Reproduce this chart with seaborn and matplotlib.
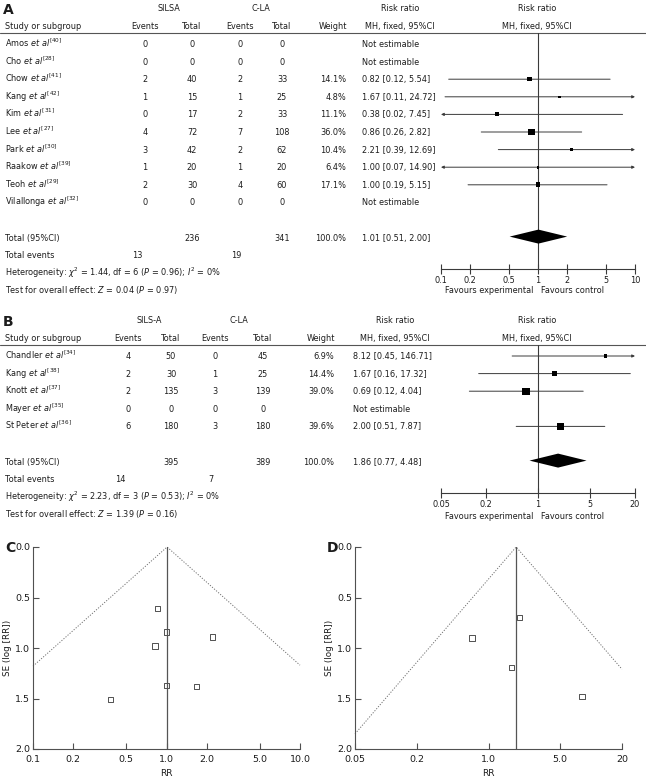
"""
Forest plots (A, B) and funnel plots (C, D): SILS vs conventional laparoscopic
appendectomy, risk ratio MH fixed effect.
"""
import numpy as np
import matplotlib
matplotlib.use("Agg")
import matplotlib.pyplot as plt
from matplotlib.ticker import NullLocator
import seaborn as sns

W, H = 646, 782

# ---------------- panel A data ----------------
a_study = ["Amos", "Cho", "Chow", "Kang", "Kim", "Lee", "Park", "Raakow", "Teoh", "Vilallonga"]
a_ref = [40, 28, 41, 42, 31, 27, 30, 39, 29, 32]
a_ev_exp = [0, 0, 2, 1, 0, 4, 3, 1, 2, 0]
a_n_exp = [0, 0, 40, 15, 17, 72, 42, 20, 30, 0]
a_ev_ctl = [0, 0, 2, 1, 2, 7, 2, 1, 4, 0]
a_n_ctl = [0, 0, 33, 25, 33, 108, 62, 20, 60, 0]
a_weight = [np.nan, np.nan, 14.1, 4.8, 11.1, 36.0, 10.4, 6.4, 17.1, np.nan]
a_rr = [np.nan, np.nan, 0.82, 1.67, 0.38, 0.86, 2.21, 1.00, 1.00, np.nan]
a_lo = [np.nan, np.nan, 0.12, 0.11, 0.02, 0.26, 0.39, 0.07, 0.19, np.nan]
a_hi = [np.nan, np.nan, 5.54, 24.72, 7.45, 2.82, 12.69, 14.90, 5.15, np.nan]
a_tot_n = [236, 341]
a_tot_ev = [13, 19]
a_tot_rr = [1.01, 0.51, 2.00]
a_het = ["1.44", "6", "0.96", "0"]
a_z = ["0.04", "0.97"]
a_ticks = [0.1, 0.2, 0.5, 1, 2, 5, 10]
a_ticklabels = ["0.1", "0.2", "0.5", "1", "2", "5", "10"]

# ---------------- panel B data ----------------
b_study = ["Chandler", "Kang", "Knott", "Mayer", "St Peter"]
b_ref = [34, 38, 37, 35, 36]
b_ev_exp = [4, 2, 2, 0, 6]
b_n_exp = [50, 30, 135, 0, 180]
b_ev_ctl = [0, 1, 3, 0, 3]
b_n_ctl = [45, 25, 139, 0, 180]
b_weight = [6.9, 14.4, 39.0, np.nan, 39.6]
b_rr = [8.12, 1.67, 0.69, np.nan, 2.00]
b_lo = [0.45, 0.16, 0.12, np.nan, 0.51]
b_hi = [146.71, 17.32, 4.04, np.nan, 7.87]
b_tot_n = [395, 389]
b_tot_ev = [14, 7]
b_tot_rr = [1.86, 0.77, 4.48]
b_het = ["2.23", "3", "0.53", "0"]
b_z = ["1.39", "0.16"]
b_ticks = [0.05, 0.2, 1, 5, 20]
b_ticklabels = ["0.05", "0.2", "1", "5", "20"]

# ---------------- funnel data (C, D) ----------------
c_rr = [0.82, 1.67, 0.38, 0.86, 2.21, 1.00, 1.00]
c_se = [0.98, 1.38, 1.51, 0.61, 0.89, 1.37, 0.84]
c_funnel_rr = [0.1, 1.01, 10.0]
c_funnel_se = [1.18, 0.0, 1.17]
c_ticks = [0.1, 0.2, 0.5, 1.0, 2.0, 5.0, 10.0]
c_ticklabels = ["0.1", "0.2", "0.5", "1.0", "2.0", "5.0", "10.0"]

d_rr = [8.12, 1.67, 0.69, 2.00]
d_se = [1.48, 1.19, 0.90, 0.70]
d_funnel_rr = [0.05, 1.86, 20.0]
d_funnel_se = [1.85, 0.0, 1.21]
d_ticks = [0.05, 0.2, 1.0, 5.0, 20.0]
d_ticklabels = ["0.05", "0.2", "1.0", "5.0", "20"]

se_ticks = [0.0, 0.5, 1.0, 1.5, 2.0]

TXT = "#1c1c1c"
LINE = "#3a3a3a"
FS = 5.9
ROW = 17.6

sns.set_theme(style="white")
plt.rcParams["font.family"] = ["DejaVu Sans"]
plt.rcParams["mathtext.fontset"] = "dejavusans"

fig = plt.figure(figsize=(W / 100, H / 100), dpi=100)
canvas = fig.add_axes([0, 0, 1, 1])
canvas.set_xlim(0, W)
canvas.set_ylim(H, 0)
canvas.axis("off")


def px_axes(x0, y0, x1, y1):
    ax = fig.add_axes([x0 / W, 1 - y1 / H, (x1 - x0) / W, (y1 - y0) / H])
    ax.patch.set_visible(False)
    return ax


def put(x, y, s, ha="left", **kw):
    # y is the visual middle of the line; baseline sits a bit lower
    canvas.text(x, y + 3.0, s, ha=ha, va="baseline", fontsize=kw.pop("fontsize", FS),
                color=TXT, **kw)


def draw_table(y0, cols, grp, study, ref, ev_e, n_e, ev_c, n_c, wt, rr, lo, hi,
               tot_n, tot_ev, tot_rr, het, z):
    c_ev1, c_n1, c_ev2, c_n2, c_wt, c_rr, c_rrh = cols
    put((c_ev1 + c_n1) / 2, y0, grp[0], ha="center")
    put((c_ev2 + c_n2) / 2, y0, grp[1], ha="center")
    put(c_rrh, y0, "Risk ratio", ha="center")
    put(537, y0, "Risk ratio", ha="center")
    yh = y0 + 18
    put(5, yh, "Study or subgroup")
    for cx, lab in [(c_ev1, "Events"), (c_n1, "Total"), (c_ev2, "Events"), (c_n2, "Total")]:
        put(cx, yh, lab, ha="center")
    put(c_wt + 1, yh, "Weight", ha="right")
    put(c_rrh, yh, "MH, fixed, 95%CI", ha="center")
    put(537, yh, "MH, fixed, 95%CI", ha="center")
    canvas.plot([0, W], [yh + 7, yh + 7], color="#555555", lw=0.8)

    rows = [yh + 18 + i * ROW for i in range(len(study))]
    for i, y in enumerate(rows):
        put(5, y, study[i] + r" $\mathit{et\ al}^{[%d]}$" % ref[i])
        put(c_ev1, y, str(ev_e[i]), ha="center")
        put(c_n1, y, str(n_e[i]), ha="center")
        put(c_ev2, y, str(ev_c[i]), ha="center")
        put(c_n2, y, str(n_c[i]), ha="center")
        if np.isnan(rr[i]):
            put(c_rr, y, "Not estimable")
        else:
            put(c_wt, y, f"{wt[i]:.1f}%", ha="right")
            put(c_rr, y, f"{rr[i]:.2f} [{lo[i]:.2f}, {hi[i]:.2f}]")

    yt = rows[-1] + 2 * ROW
    put(5, yt, "Total (95%CI)")
    put(c_n1, yt, str(tot_n[0]), ha="center")
    put(c_n2, yt, str(tot_n[1]), ha="center")
    put(c_wt, yt, "100.0%", ha="right")
    put(c_rr, yt, f"{tot_rr[0]:.2f} [{tot_rr[1]:.2f}, {tot_rr[2]:.2f}]")
    put(5, yt + ROW, "Total events")
    put(c_ev1 - 8, yt + ROW, str(tot_ev[0]), ha="center")
    put(c_ev2 - 4, yt + ROW, str(tot_ev[1]), ha="center")
    put(5, yt + 2 * ROW,
        r"Heterogeneity: $\chi^2$ = %s, df = %s ($P$ = %s); $I^2$ = %s%%" % tuple(het))
    put(5, yt + 3 * ROW, r"Test for overall effect: $Z$ = %s ($P$ = %s)" % tuple(z))
    return rows, yt


def draw_forest(top, bottom, rows, yt, rr, lo, hi, wt, tot_rr, ticks, ticklabels, fav_y):
    ax = px_axes(441, top, 635, bottom)
    xmin, xmax = ticks[0], ticks[-1]
    ax.set_xscale("log")
    ax.set_xlim(xmin, xmax)
    ax.set_ylim(bottom, top)
    ax.axvline(1, color=LINE, lw=0.8, zorder=1)

    ok = [i for i in range(len(rr)) if not np.isnan(rr[i])]
    for i in ok:
        left, right = max(lo[i], xmin), min(hi[i], xmax)
        style = {(False, False): "-", (False, True): "-|>",
                 (True, False): "<|-", (True, True): "<|-|>"}[(lo[i] < xmin, hi[i] > xmax)]
        ax.annotate("", xy=(right, rows[i]), xytext=(left, rows[i]),
                    arrowprops=dict(arrowstyle=style, color=LINE, lw=0.7,
                                    mutation_scale=4, shrinkA=0, shrinkB=0),
                    annotation_clip=False)
    sns.scatterplot(x=[rr[i] for i in ok], y=[rows[i] for i in ok],
                    size=[wt[i] for i in ok], sizes=(0, 28), size_norm=(0, 40),
                    marker="s", color="black", linewidth=0, legend=False,
                    ax=ax, zorder=3, clip_on=False)
    est, dlo, dhi = tot_rr
    ax.fill([dlo, est, dhi, est], [yt - 1, yt - 8, yt - 1, yt + 6], color="black", lw=0, zorder=3)

    for side in ["top", "left", "right"]:
        ax.spines[side].set_visible(False)
    ax.spines["bottom"].set_color(LINE)
    ax.spines["bottom"].set_linewidth(0.8)
    ax.set_yticks([])
    ax.set_xticks(ticks)
    ax.set_xticklabels(ticklabels)
    ax.xaxis.set_minor_locator(NullLocator())
    ax.tick_params(axis="x", direction="inout", length=7, width=0.8, colors=LINE,
                   labelcolor=TXT, labelsize=FS, pad=1.5, bottom=True)
    ax.grid(False)
    put(533, fav_y, "Favours experimental", ha="right")
    put(541, fav_y, "Favours control")


def draw_funnel(x0, x1, rr, se, f_rr, f_se, pooled, ticks, ticklabels, letter):
    ax = px_axes(x0, 547, x1, 749)
    ax.set_xscale("log")
    ax.set_xlim(ticks[0], ticks[-1])
    ax.set_ylim(2.0, 0.0)
    ax.plot(f_rr, f_se, ls=(0, (1.2, 1.6)), color="#707070", lw=0.7, clip_on=False)
    ax.axvline(pooled, color="#555555", lw=0.9)
    sns.scatterplot(x=rr, y=se, marker="s", s=15, facecolor="none", edgecolor="#505050",
                    linewidth=0.7, legend=False, ax=ax, zorder=3)
    for side in ["top", "right"]:
        ax.spines[side].set_visible(False)
    for side in ["left", "bottom"]:
        ax.spines[side].set_color("#505050")
        ax.spines[side].set_linewidth(0.8)
    ax.set_xticks(ticks)
    ax.set_xticklabels(ticklabels)
    ax.xaxis.set_minor_locator(NullLocator())
    ax.set_yticks(se_ticks)
    ax.set_yticklabels([f"{v:.1f}" for v in se_ticks])
    ax.tick_params(direction="in", length=4, width=0.8, colors="#505050", labelcolor=TXT,
                   labelsize=6.8, left=True, bottom=True)
    ax.tick_params(axis="x", pad=4)
    ax.tick_params(axis="y", pad=2)
    ax.grid(False)
    canvas.text(x0 - 25, 648, "SE (log [RR])", rotation=90, ha="center", va="center",
                fontsize=6.3, color=TXT)
    canvas.text((x0 + x1) / 2, 774, "RR", ha="center", va="center", fontsize=6.5, color=TXT)
    canvas.text(x0 - 28, 548, letter, ha="left", va="center", fontsize=10,
                fontweight="bold", color=TXT)


# panel A
canvas.text(3, 10, "A", ha="left", va="center", fontsize=10, fontweight="bold", color=TXT)
rows_a, yt_a = draw_table(8, (145, 192, 240, 282, 346, 362, 400), ("SILSA", "C-LA"),
                          a_study, a_ref, a_ev_exp, a_n_exp, a_ev_ctl, a_n_ctl,
                          a_weight, a_rr, a_lo, a_hi, a_tot_n, a_tot_ev, a_tot_rr, a_het, a_z)
draw_forest(33, 269, rows_a, yt_a, a_rr, a_lo, a_hi, a_weight, a_tot_rr,
            a_ticks, a_ticklabels, 290)

# panel B
canvas.text(3, 322, "B", ha="left", va="center", fontsize=10, fontweight="bold", color=TXT)
rows_b, yt_b = draw_table(320, (128, 171, 215, 263, 334, 353, 395), ("SILS-A", "C-LA"),
                          b_study, b_ref, b_ev_exp, b_n_exp, b_ev_ctl, b_n_ctl,
                          b_weight, b_rr, b_lo, b_hi, b_tot_n, b_tot_ev, b_tot_rr, b_het, b_z)
draw_forest(345, 493, rows_b, yt_b, b_rr, b_lo, b_hi, b_weight, b_tot_rr,
            b_ticks, b_ticklabels, 516)

# panels C and D
draw_funnel(33, 300, c_rr, c_se, c_funnel_rr, c_funnel_se, 1.01, c_ticks, c_ticklabels, "C")
draw_funnel(355, 622, d_rr, d_se, d_funnel_rr, d_funnel_se, 1.86, d_ticks, d_ticklabels, "D")

fig.savefig("out.png", dpi=100)
